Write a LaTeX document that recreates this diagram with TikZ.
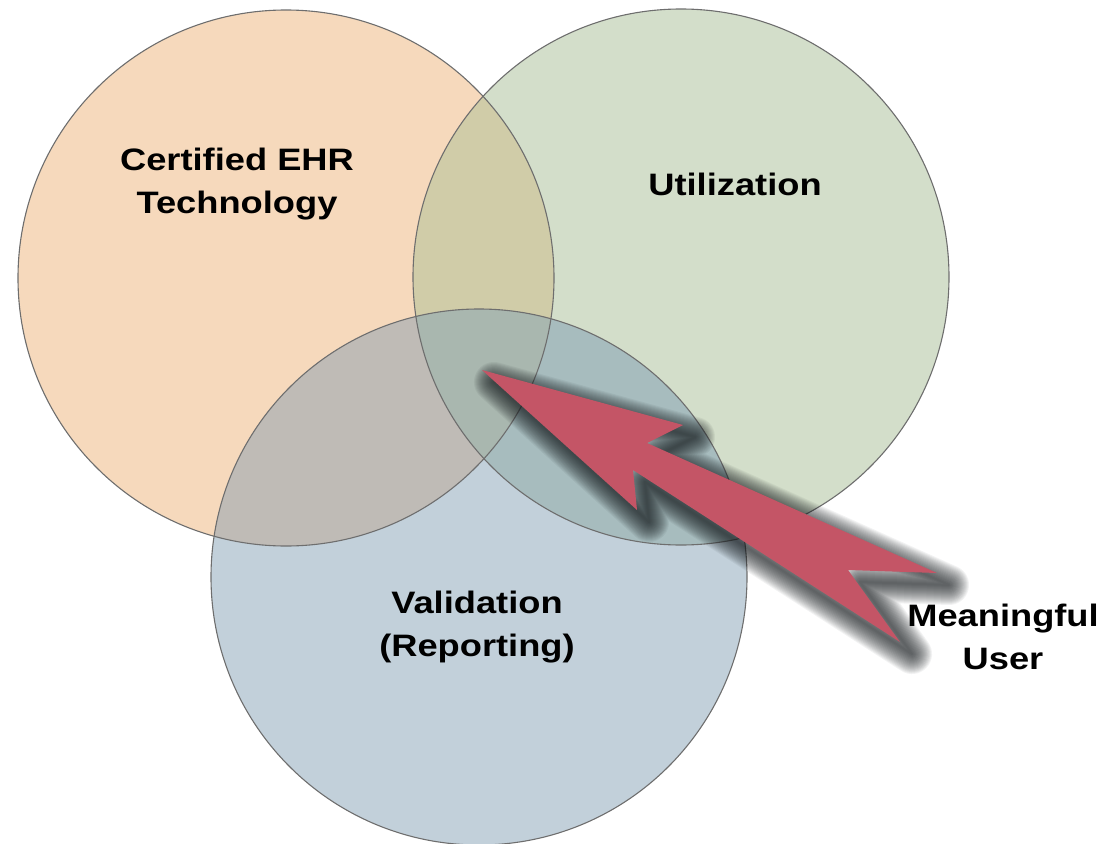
\documentclass[tikz,border=0pt]{standalone}
\usepackage{fontspec}
\setmainfont{Liberation Sans}[FakeStretch=1.17]
\definecolor{cO}{RGB}{246,217,188}
\definecolor{cG}{RGB}{211,222,202}
\definecolor{cB}{RGB}{194,208,218}
\definecolor{cOG}{RGB}{208,204,168}
\definecolor{cOB}{RGB}{191,187,182}
\definecolor{cGB}{RGB}{167,188,190}
\definecolor{cOGB}{RGB}{169,183,175}
\definecolor{cArrow}{RGB}{196,85,102}
\definecolor{cLine}{RGB}{110,110,110}
\definecolor{cShadow}{RGB}{20,25,28}
\begin{document}
\begin{tikzpicture}[x=1bp,y=-1bp,
  ring/.style={draw=cLine,line width=1.1bp},
  lbl/.style={font=\fontsize{31bp}{43bp}\selectfont\bfseries,align=center,text=black,inner sep=0pt},
  shadowstroke/.style={draw=cShadow,draw opacity=0.055,line join=round}]
\useasboundingbox (0,0) rectangle (1108,844);
\coordinate (O) at (286,278);
\coordinate (G) at (681,277);
\coordinate (B) at (479,577);
\def\R{268bp}
\def\arrowpath{(482,370) -- (683,425) -- (647,443) -- (937,573) -- (848,570) -- (900,642)
  -- (633,470) -- (637,510) -- cycle}
% base fills
\fill[cO] (O) circle (\R);
\fill[cG] (G) circle (\R);
\fill[cB] (B) circle (\R);
% pairwise overlaps
\begin{scope}\clip (O) circle (\R); \fill[cOG] (G) circle (\R); \end{scope}
\begin{scope}\clip (O) circle (\R); \fill[cOB] (B) circle (\R); \end{scope}
\begin{scope}\clip (G) circle (\R); \fill[cGB] (B) circle (\R); \end{scope}
\begin{scope}\clip (O) circle (\R); \clip (G) circle (\R); \fill[cOGB] (B) circle (\R); \end{scope}
% outlines
\draw[ring] (O) circle (\R);
\draw[ring] (G) circle (\R);
\draw[ring] (B) circle (\R);
% labels (anchor=base is the baseline of the last line)
\node[lbl,anchor=base] (tcert) at (237,213) {Certified EHR\\Technology};
\node[lbl,anchor=base] (tutil) at (735,195) {Utilization};
\node[lbl,anchor=base] (tval) at (477,656) {Validation\\(Reporting)};
\node[lbl,anchor=base] (tuser) at (1003,669) {Meaningful\\User};
% soft shadow of the arrow
\begin{scope}[shift={(12,12)}]
  \foreach \w in {2,4,...,40} { \path[shadowstroke,line width=\w bp] \arrowpath; }
\end{scope}
% arrow
\fill[cArrow] \arrowpath;
\end{tikzpicture}
\end{document}
